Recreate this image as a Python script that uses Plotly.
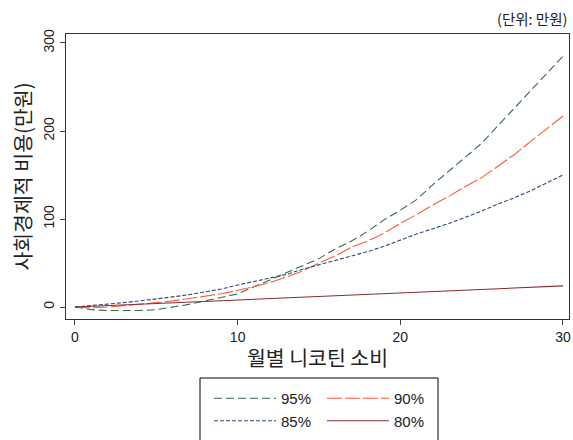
import plotly.graph_objects as go

months = list(range(0, 31))

cost_95 = [0, -3, -4, -4, -4, -3, 0, 3, 7, 11, 15, 23, 31, 39, 47, 55, 66, 75, 86, 99,
           110, 122, 139, 155, 171, 186, 206, 226, 246, 266, 285]
cost_90 = [0, -1, 0, 1.5, 3, 5, 7, 9.5, 12, 15, 19, 23, 28, 34, 41, 50, 58, 68, 75, 84,
           95, 105, 116, 126, 137, 147, 160, 173, 188, 203, 217]
cost_85 = [0, 1.5, 3, 5, 7, 9, 11.5, 14, 17, 20.5, 25, 29, 33, 37, 43, 48, 53, 58, 63, 69,
           76, 83, 89, 95, 102, 109, 117, 124, 132, 141, 150]
cost_80 = [0, 0.8, 1.6, 2.4, 3.2, 4.0, 4.8, 5.6, 6.4, 7.2, 8.0, 8.8, 9.6, 10.4, 11.2, 12.0,
           12.8, 13.6, 14.4, 15.2, 16.0, 16.8, 17.6, 18.4, 19.2, 20.0, 20.8, 21.6, 22.4, 23.2, 24.0]

series_names = ["95%", "90%", "85%", "80%"]
x_ticks = [0, 10, 20, 30]
y_ticks = [0, 100, 200, 300]

styles = [
    dict(color="#3a6b42", dash="8px,4px", legend="legend"),
    dict(color="#ff5a36", dash="15px,3px", legend="legend2"),
    dict(color="#2c4a78", dash="4px,2px", legend="legend"),
    dict(color="#8a2b30", dash="solid", legend="legend2"),
]

fig = go.Figure()
for name, vals, st in zip(series_names, [cost_95, cost_90, cost_85, cost_80], styles):
    fig.add_trace(go.Scatter(
        x=months, y=vals, mode="lines", name=name, legend=st["legend"],
        line=dict(color=st["color"], dash=st["dash"], width=1.1),
    ))

font_fam = "Liberation Sans, Noto Sans CJK KR, sans-serif"
kr_fam = "Noto Sans CJK KR"

W, H = 573, 440
ML, MR, MT, MB = 66, 4, 34, 121
PW = W - ML - MR
PH = H - MT - MB

def px(sx):
    return (sx - ML) / PW

def py(sy):
    return (H - MB - sy) / PH

legend_common = dict(
    orientation="v", yanchor="top", xanchor="left",
    bgcolor="rgba(0,0,0,0)", borderwidth=0, itemwidth=62,
    font=dict(size=15, family=font_fam, color="#222"),
    tracegroupgap=0,
)

fig.update_layout(
    width=W, height=H,
    margin=dict(l=ML, r=MR, t=MT, b=MB, autoexpand=False),
    paper_bgcolor="white", plot_bgcolor="white",
    font=dict(family=font_fam, color="#222", size=14),
    showlegend=True,
    legend=dict(x=px(209), y=py(382), **legend_common),
    legend2=dict(x=px(322), y=py(382), **legend_common),
    xaxis=dict(
        range=[-0.55, 30.37], tickvals=x_ticks, ticks="outside", ticklen=5,
        showline=True, linecolor="#333", linewidth=1, mirror=True,
        showgrid=False, zeroline=False, automargin=False,
        title=dict(text="월별 니코틴 소비", font=dict(size=20.5, family=kr_fam), standoff=7),
        tickfont=dict(size=14),
    ),
    yaxis=dict(
        range=[-13.6, 310.2], tickvals=y_ticks, ticks="outside", ticklen=5,
        tickangle=-90,
        showline=True, linecolor="#333", linewidth=1, mirror=True,
        showgrid=False, zeroline=False, automargin=False,
        title=dict(text="사회경제적 비용(만원)", font=dict(size=20.5, family=kr_fam), standoff=4),
        tickfont=dict(size=14),
    ),
    annotations=[dict(
        text="(단위: 만원)", xref="paper", yref="paper", x=1.0, y=py(18),
        xanchor="right", yanchor="middle", showarrow=False,
        font=dict(size=14.5, family=kr_fam),
    )],
    shapes=[dict(
        type="rect", xref="paper", yref="paper",
        x0=px(200), x1=px(438), y0=py(378), y1=py(450),
        line=dict(color="#000", width=1), fillcolor="rgba(0,0,0,0)", layer="above",
    )],
)

fig.write_html(
    "out.html",
    config={"displayModeBar": False},
    post_script="document.body.style.margin='0';document.body.style.overflow='hidden';",
)
